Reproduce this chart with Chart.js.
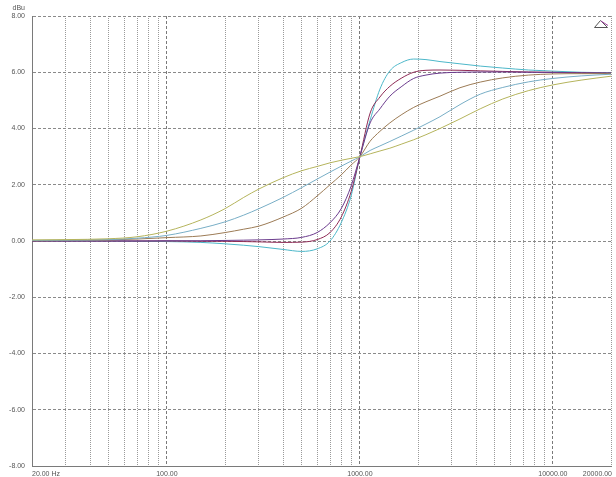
<!DOCTYPE html>
<html><head><meta charset="utf-8">
<script src="https://cdn.jsdelivr.net/npm/chart.js@4.4.0/dist/chart.umd.min.js"></script>
<style>html,body{margin:0;padding:0;background:#fff}#wrap{width:616px;height:477px;position:relative}</style>
</head><body><div id="wrap"><canvas id="c" width="616" height="477"></canvas></div>
<script>
// Frequencies (Hz) at which the curves were read
const freqs = [20, 30, 50, 70, 100, 150, 200, 250, 300, 400, 500, 600, 700, 800, 900, 1000, 1130, 1270, 1430, 1650, 1900, 2200, 2600, 3300, 4200, 5500, 7500, 10000, 14000, 20000];
// Response curves (dBu)
const cyanSeries   = [0.00, 0.00, 0.00, -0.01, -0.02, -0.05, -0.10, -0.15, -0.20, -0.30, -0.37, -0.28, 0.00, 0.65, 1.60, 3.00, 4.30, 5.40, 6.05, 6.35, 6.47, 6.45, 6.38, 6.30, 6.22, 6.15, 6.08, 6.04, 6.00, 5.98];
const maroonSeries = [0.00, 0.00, 0.00, 0.00, 0.00, -0.01, -0.01, -0.02, -0.03, -0.05, -0.04, 0.05, 0.30, 0.85, 1.75, 3.00, 4.55, 5.12, 5.50, 5.80, 6.00, 6.07, 6.08, 6.07, 6.05, 6.03, 6.01, 6.00, 5.98, 5.97];
const purpleSeries = [0.00, 0.00, 0.00, 0.00, 0.01, 0.01, 0.02, 0.03, 0.04, 0.07, 0.13, 0.30, 0.65, 1.15, 1.95, 3.00, 4.20, 4.70, 5.15, 5.50, 5.78, 5.90, 5.97, 6.00, 6.01, 6.01, 6.00, 5.99, 5.98, 5.97];
const brownSeries  = [0.01, 0.02, 0.04, 0.07, 0.12, 0.18, 0.30, 0.42, 0.53, 0.85, 1.17, 1.60, 2.00, 2.35, 2.70, 3.00, 3.55, 3.90, 4.20, 4.50, 4.75, 4.95, 5.15, 5.45, 5.65, 5.80, 5.90, 5.94, 5.95, 5.95];
const blueSeries   = [0.02, 0.03, 0.05, 0.10, 0.20, 0.45, 0.68, 0.92, 1.15, 1.55, 1.90, 2.20, 2.45, 2.66, 2.84, 3.00, 3.22, 3.38, 3.54, 3.74, 3.94, 4.16, 4.42, 4.85, 5.22, 5.46, 5.66, 5.78, 5.87, 5.93];
const yellowSeries = [0.04, 0.05, 0.08, 0.15, 0.35, 0.75, 1.15, 1.55, 1.85, 2.25, 2.50, 2.65, 2.78, 2.87, 2.94, 3.00, 3.10, 3.20, 3.30, 3.45, 3.60, 3.78, 4.00, 4.34, 4.70, 5.05, 5.35, 5.55, 5.72, 5.86];
// Axis ticks
const xTickValues = [20, 30, 40, 50, 60, 70, 80, 90, 100, 200, 300, 400, 500, 600, 700, 800, 900, 1000, 2000, 3000, 4000, 5000, 6000, 7000, 8000, 9000, 10000, 20000];
const xMajor = [100, 1000, 10000];
const xTickLabels = {20: '20.00 Hz', 100: '100.00', 1000: '1000.00', 10000: '10000.00', 20000: '20000.00'};
const yTickValues = [-8, -6, -4, -2, 0, 2, 4, 6, 8];
const yUnit = 'dBu';

function pts(arr) { return freqs.map((f, i) => ({x: f, y: arr[i]})); }
function ds(arr, color) {
  return {data: pts(arr), borderColor: color, borderWidth: 1, pointRadius: 0, fill: false, cubicInterpolationMode: 'monotone'};
}

const labelPlugin = {
  id: 'labels',
  afterDraw(chart) {
    const ctx = chart.ctx, xs = chart.scales.x, ys = chart.scales.y;
    ctx.save();
    ctx.fillStyle = '#555';
    ctx.font = '7px "Liberation Sans", Arial, sans-serif';
    ctx.textAlign = 'right'; ctx.textBaseline = 'middle';
    yTickValues.forEach(v => ctx.fillText(v.toFixed(2), 25, ys.getPixelForValue(v)));
    ctx.fillText(yUnit, 25, 8);
    ctx.textBaseline = 'middle';
    Object.keys(xTickLabels).forEach(k => {
      const v = +k, px = xs.getPixelForValue(v);
      if (v === 20) { ctx.textAlign = 'left'; ctx.fillText(xTickLabels[k], px, 474); }
      else if (v === 20000) { ctx.textAlign = 'right'; ctx.fillText(xTickLabels[k], px + 1, 474); }
      else { ctx.textAlign = 'center'; ctx.fillText(xTickLabels[k], px, 474); }
    });
    // marker triangle in top-right corner
    ctx.strokeStyle = '#555'; ctx.lineWidth = 1;
    ctx.beginPath(); ctx.moveTo(600.5, 20.5); ctx.lineTo(594.5, 27.5); ctx.lineTo(607.5, 27.5); ctx.closePath(); ctx.stroke();
    ctx.strokeStyle = '#a040a0';
    ctx.beginPath(); ctx.moveTo(601, 21); ctx.lineTo(608, 25.5); ctx.stroke();
    ctx.restore();
  }
};

new Chart(document.getElementById('c'), {
  type: 'line',
  data: {datasets: [
    ds(yellowSeries, '#b5b45c'),
    ds(blueSeries, '#78aec6'),
    ds(brownSeries, '#9c7b55'),
    ds(purpleSeries, '#6a3a8c'),
    ds(maroonSeries, '#8e2a55'),
    ds(cyanSeries, '#4cb7c9')
  ]},
  options: {
    responsive: false, animation: false, devicePixelRatio: 1,
    layout: {padding: {left: 32, right: 5, top: 16, bottom: 11}},
    plugins: {legend: {display: false}, tooltip: {enabled: false}},
    scales: {
      x: {
        type: 'logarithmic', min: 20, max: 20000, position: 'bottom',
        afterBuildTicks: s => { s.ticks = xTickValues.map(v => ({value: v})); },
        ticks: {display: false},
        grid: {
          drawTicks: false, lineWidth: 1,
          color: c => {
            const v = c.tick && c.tick.value;
            if (v === 20) return 'rgba(0,0,0,0)';
            if (xMajor.includes(v)) return '#7a7a7a';
            return '#9a9a9a';
          }
        },
        border: {display: true, color: '#7a7a7a', width: 1,
          dash: c => {
            const v = c.tick && c.tick.value;
            if (xMajor.includes(v)) return [3, 2];
            return [1, 1];
          }
        }
      },
      y: {
        min: -8, max: 8,
        afterBuildTicks: s => { s.ticks = yTickValues.map(v => ({value: v})); },
        ticks: {display: false},
        grid: {
          drawTicks: false, lineWidth: 1,
          color: c => (c.tick && c.tick.value === -8) ? 'rgba(0,0,0,0)' : '#8a8a8a'
        },
        border: {display: true, color: '#7a7a7a', width: 1, dash: [3, 2]}
      }
    }
  },
  plugins: [labelPlugin]
});
</script></body></html>
